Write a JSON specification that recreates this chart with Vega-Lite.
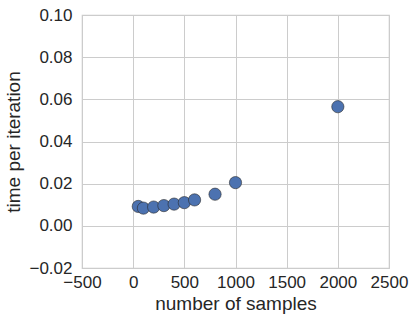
{
  "$schema": "https://vega.github.io/schema/vega-lite/v6.json",
  "autosize": "none",
  "width": 307,
  "height": 253,
  "padding": {"left": 82, "top": 15, "right": 27, "bottom": 55},
  "background": "white",
  "config": {
    "font": "Liberation Sans",
    "view": {"stroke": "#cccccc", "strokeWidth": 1.2},
    "axis": {
      "grid": true, "gridColor": "#cccccc", "gridWidth": 1,
      "domain": false, "ticks": false,
      "labelFont": "Liberation Sans", "labelFontSize": 17, "labelColor": "#262626",
      "titleFont": "Liberation Sans", "titleFontSize": 19, "titleFontWeight": "normal", "titleColor": "#262626"
    }
  },
  "data": {
    "values": [
      {"samples": 50, "time": 0.0092},
      {"samples": 100, "time": 0.0084},
      {"samples": 200, "time": 0.0089},
      {"samples": 300, "time": 0.0096},
      {"samples": 400, "time": 0.0103},
      {"samples": 500, "time": 0.0110},
      {"samples": 600, "time": 0.0123},
      {"samples": 800, "time": 0.0150},
      {"samples": 1000, "time": 0.0205},
      {"samples": 2000, "time": 0.0565}
    ]
  },
  "mark": {"type": "point", "filled": true, "shape": "circle", "size": 150, "color": "#4c72b0", "opacity": 1, "stroke": "#2a2a2a", "strokeWidth": 0.6},
  "encoding": {
    "x": {
      "field": "samples", "type": "quantitative", "title": "number of samples",
      "scale": {"domain": [-500, 2500], "nice": false, "zero": false},
      "axis": {"values": [-500, 0, 500, 1000, 1500, 2000, 2500], "format": "d", "labelPadding": 6, "titlePadding": 4, "labelFlush": false}
    },
    "y": {
      "field": "time", "type": "quantitative", "title": "time per iteration",
      "scale": {"domain": [-0.02, 0.10], "nice": false, "zero": false},
      "axis": {"values": [-0.02, 0, 0.02, 0.04, 0.06, 0.08, 0.10], "format": ".2f", "labelPadding": 10, "titlePadding": 5, "labelFlush": false}
    }
  }
}
